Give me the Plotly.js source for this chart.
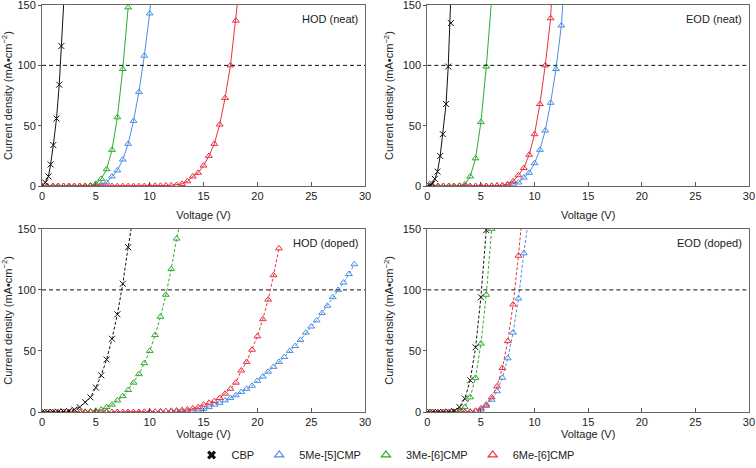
<!DOCTYPE html>
<html>
<head>
<meta charset="utf-8">
<script src="https://cdn.plot.ly/plotly-3.0.1.min.js"></script>
<style>
  html, body { margin: 0; padding: 0; background: #fff; }
  #chart { width: 756px; height: 468px; }
</style>
</head>
<body>
<div id="chart"></div>
<script>
// series names and colours
const names = ["CBP", "5Me-[5]CMP", "3Me-[6]CMP", "6Me-[6]CMP"];
const colors = ["#111111", "#4a8fe2", "#2eab2e", "#e8323e"];
const panelLabels = ["HOD (neat)", "EOD (neat)", "HOD (doped)", "EOD (doped)"];
const refLevel = 100;

// HOD (neat)
const hnCbpV = [0, 0.3, 0.6, 0.8, 1.05, 1.35, 1.6, 1.8, 2.1];
const hnCbpJ = [0, 3, 8, 18, 34, 56, 84, 116, 165];
const hn5mV = [0, 0.5, 1, 1.5, 2, 2.5, 3, 3.5, 4, 4.5, 5, 5.5, 6, 6.5, 7, 7.5, 8, 8.5, 9, 9.5, 10, 10.5];
const hn5mJ = [0, 0, 0, 0, 0, 0, 0, 0, 0, 0.2, 0.5, 1.5, 3, 8, 13, 22, 35, 54, 78, 108, 143, 200];
const hn3mV = [0, 0.5, 1, 1.5, 2, 2.5, 3, 3.5, 4, 4.5, 5, 5.5, 6, 6.5, 7, 7.5, 8];
const hn3mJ = [0, 0, 0, 0, 0, 0, 0, 0, 0.2, 0.5, 2, 6, 14, 30, 57, 97, 148];
const hn6mV = [0, 0.5, 1, 1.5, 2, 2.5, 3, 3.5, 4, 4.5, 5, 5.5, 6, 6.5, 7, 7.5, 8, 8.5, 9, 9.5, 10, 10.5, 11, 11.5, 12, 12.5, 13, 13.5, 14, 14.5, 15, 15.5, 16, 16.5, 17, 17.5, 18, 18.5];
const hn6mJ = [0, 0, 0, 0, 0, 0, 0, 0, 0, 0, 0, 0, 0, 0, 0, 0, 0, 0, 0, 0, 0.1, 0.2, 0.3, 0.5, 0.7, 1, 1.8, 4, 8, 11, 17, 25, 35, 51, 73, 100, 137, 180];

// EOD (neat)
const enCbpV = [0, 0.3, 0.45, 0.7, 0.95, 1.2, 1.45, 1.75, 1.95, 2.2, 2.45];
const enCbpJ = [0, 1, 2, 6, 12, 25, 43, 68, 99, 135, 220];
const en5mV = [0, 0.5, 1, 1.5, 2, 2.5, 3, 3.5, 4, 4.5, 5, 5.5, 6, 6.5, 7, 7.5, 8, 8.5, 9, 9.5, 10, 10.5, 11, 11.5, 12, 12.5, 13];
const en5mJ = [0, 0, 0, 0, 0, 0, 0, 0, 0, 0, 0, 0, 0.1, 0.3, 0.6, 1, 2, 3, 7, 11, 19, 30, 46, 69, 97, 133, 200];
const en3mV = [0, 0.5, 1, 1.5, 2, 2.5, 3, 3.5, 4, 4.5, 5, 5.5, 6];
const en3mJ = [0, 0, 0, 0, 0, 0, 0.3, 1.5, 8, 23, 53, 99, 155];
const en6mV = [0, 0.5, 1, 1.5, 2, 2.5, 3, 3.5, 4, 4.5, 5, 5.5, 6, 6.5, 7, 7.5, 8, 8.5, 9, 9.5, 10, 10.5, 11, 11.5, 12];
const en6mJ = [0, 0, 0, 0, 0, 0, 0, 0, 0, 0, 0, 0.1, 0.2, 0.4, 0.7, 1.5, 4, 9, 15, 26, 43, 68, 100, 139, 240];

// HOD (doped)
const hdCbpV = [0, 0.5, 1, 1.5, 2, 2.5, 3, 3.5, 4, 4.5, 5, 5.5, 6, 6.5, 7, 7.5, 8, 8.5];
const hdCbpJ = [0, 0, 0, 0.2, 0.4, 0.8, 2, 4, 8, 12, 20, 30, 43, 60, 80, 105, 135, 162];
const hd5mV = [0, 1, 2, 3, 4, 5, 6, 7, 8, 9, 10, 11, 12, 12.5, 13, 13.5, 14, 14.5, 15, 15.5, 16, 16.5, 17, 17.5, 18, 18.5, 19, 19.5, 20, 20.5, 21, 21.5, 22, 22.5, 23, 23.5, 24, 24.5, 25, 25.5, 26, 26.5, 27, 27.5, 28, 28.5, 29];
const hd5mJ = [0, 0, 0, 0, 0, 0, 0, 0, 0, 0, 0, 0.1, 0.2, 0.3, 0.4, 0.6, 0.8, 1.2, 2.5, 4, 6, 7.5, 9.5, 11.5, 13.7, 16.4, 19, 21.5, 25.5, 29, 33, 37, 41, 45, 50, 54, 59, 65, 70, 75, 81, 87, 94, 100, 106, 113, 121];
const hd3mV = [0, 0.5, 1, 1.5, 2, 2.5, 3, 3.5, 4, 4.5, 5, 5.5, 6, 6.5, 7, 7.5, 8, 8.5, 9, 9.5, 10, 10.5, 11, 11.5, 12, 12.5, 13];
const hd3mJ = [0, 0, 0, 0, 0, 0, 0, 0, 0.2, 0.5, 1, 2, 4, 6, 9.5, 13, 18, 24, 31, 40, 50, 63, 78, 96, 117, 142, 162];
const hd6mV = [0, 0.5, 1, 1.5, 2, 2.5, 3, 3.5, 4, 4.5, 5, 5.5, 6, 6.5, 7, 7.5, 8, 8.5, 9, 9.5, 10, 10.5, 11, 11.5, 12, 12.5, 13, 13.5, 14, 14.5, 15, 15.5, 16, 16.5, 17, 17.5, 18, 18.5, 19, 19.5, 20, 20.5, 21, 21.5, 22];
const hd6mJ = [0, 0, 0, 0, 0, 0, 0, 0, 0, 0, 0, 0, 0, 0, 0, 0, 0, 0, 0, 0.1, 0.2, 0.3, 0.5, 0.7, 1, 1.2, 1.5, 2, 3, 4, 6, 7.5, 9, 11.5, 15, 19, 24, 34, 41, 51, 62, 76, 92, 112, 134];

// EOD (doped)
const edCbpV = [0, 0.5, 1, 1.5, 2, 2.5, 3, 3.5, 4, 4.5, 5, 5.5];
const edCbpJ = [0, 0, 0, 0, 0.3, 0.8, 4, 11, 26, 53, 94, 149];
const ed5mV = [0, 0.5, 1, 1.5, 2, 2.5, 3, 3.5, 4, 4.5, 5, 5.5, 6, 6.5, 7, 7.5, 8, 8.5, 9, 9.5];
const ed5mJ = [0, 0, 0, 0, 0, 0, 0, 0, 0, 0.5, 2, 5, 10, 17, 28, 44, 65, 93, 130, 162];
const ed3mV = [0, 0.5, 1, 1.5, 2, 2.5, 3, 3.5, 4, 4.5, 5, 5.5, 6];
const ed3mJ = [0, 0, 0, 0, 0, 0.2, 0.8, 4, 12, 28, 56, 96, 150];
const ed6mV = [0, 0.5, 1, 1.5, 2, 2.5, 3, 3.5, 4, 4.5, 5, 5.5, 6, 6.5, 7, 7.5, 8, 8.5, 9];
const ed6mJ = [0, 0, 0, 0, 0, 0, 0, 0, 0.3, 1, 3, 6, 12, 21, 36, 58, 88, 128, 175];

const xTicks = [0, 5, 10, 15, 20, 25, 30];
const yTicks = [0, 50, 100, 150];

// per panel: [x, y] for CBP, 5Me, 3Me, 6Me
const panels = [
  { s: [[hnCbpV, hnCbpJ], [hn5mV, hn5mJ], [hn3mV, hn3mJ], [hn6mV, hn6mJ]], dash: "solid" },
  { s: [[enCbpV, enCbpJ], [en5mV, en5mJ], [en3mV, en3mJ], [en6mV, en6mJ]], dash: "solid" },
  { s: [[hdCbpV, hdCbpJ], [hd5mV, hd5mJ], [hd3mV, hd3mJ], [hd6mV, hd6mJ]], dash: "dash" },
  { s: [[edCbpV, edCbpJ], [ed5mV, ed5mJ], [ed3mV, ed3mJ], [ed6mV, ed6mJ]], dash: "dash" },
];

const font = "Liberation Sans, Arial, Helvetica, sans-serif";
const traces = [];

function markerFor(i, size) {
  if (i === 0) {
    return { symbol: "x-thin-open", size: size, color: colors[0], line: { width: 1, color: colors[0] } };
  }
  return { symbol: "triangle-up-open", size: size, color: colors[i], line: { width: 1, color: colors[i] } };
}

panels.forEach((p, k) => {
  const ax = k === 0 ? "" : String(k + 1);
  [1, 2, 3, 0].forEach((i) => {
    traces.push({
      x: p.s[i][0],
      y: p.s[i][1],
      type: "scatter",
      mode: "lines+markers",
      line: { color: colors[i], width: 1, dash: p.dash === "dash" ? "3px,2px" : "solid" },
      marker: markerFor(i, 6),
      xaxis: "x" + ax,
      yaxis: "y" + ax,
      showlegend: false,
      hoverinfo: "skip",
    });
  });
});

// legend-only entries
names.forEach((n, i) => {
  traces.push({
    x: [null],
    y: [null],
    type: "scatter",
    mode: "markers",
    name: n,
    marker: i === 0
      ? { symbol: "x", size: 8, color: colors[0] }
      : { symbol: "triangle-up-open", size: 8, color: colors[i], line: { width: 1.2, color: colors[i] } },
    xaxis: "x",
    yaxis: "y",
  });
});

const xDom = [[0, 0.457], [0.545, 1], [0, 0.457], [0.545, 1]];
const yDom = [[0.555, 1], [0.555, 1], [0, 0.45], [0, 0.45]];

const layout = {
  width: 756,
  height: 468,
  margin: { l: 42, r: 7, t: 5, b: 56, autoexpand: false },
  paper_bgcolor: "#fff",
  plot_bgcolor: "#fff",
  font: { family: font, size: 11, color: "#222" },
  showlegend: true,
  legend: {
    orientation: "h",
    xref: "container",
    yref: "container",
    x: 0.51,
    xanchor: "center",
    y: 0.028,
    yanchor: "middle",
    font: { size: 11, color: "#222" },
    itemwidth: 30,
  },
  annotations: [],
  shapes: [],
};

for (let k = 0; k < 4; k++) {
  const ax = k === 0 ? "" : String(k + 1);
  layout["xaxis" + ax] = {
    domain: xDom[k],
    anchor: "y" + ax,
    range: [0, 30],
    tickvals: xTicks,
    ticks: "inside",
    ticklen: 4,
    tickcolor: "#555",
    showline: true,
    linecolor: "#666",
    linewidth: 1,
    mirror: true,
    showgrid: false,
    zeroline: false,
    ticklabeloverflow: "allow",
    title: { text: "Voltage (V)", font: { size: 11 }, standoff: 9 },
  };
  layout["yaxis" + ax] = {
    domain: yDom[k],
    anchor: "x" + ax,
    range: [0, 150],
    tickvals: yTicks,
    ticks: "outside",
    ticklen: 3,
    tickcolor: "#555",
    showline: true,
    linecolor: "#666",
    linewidth: 1,
    mirror: true,
    showgrid: false,
    zeroline: false,
    ticklabeloverflow: "allow",
    title: { text: "Current density (mA\u2022cm<sup>\u22122</sup>)", font: { size: 11 }, standoff: 6 },
  };
  layout.shapes.push({
    type: "line",
    xref: "x" + ax + " domain",
    yref: "y" + ax,
    x0: 0,
    x1: 1,
    y0: refLevel,
    y1: refLevel,
    line: { color: "#111", width: 1, dash: "4px,3px" },
  });
  layout.annotations.push({
    text: panelLabels[k],
    xref: "x" + ax + " domain",
    yref: "y" + ax + " domain",
    x: 0.985,
    y: 0.965,
    xanchor: "right",
    yanchor: "top",
    showarrow: false,
    font: { size: 11, color: "#222" },
  });
}

Plotly.newPlot("chart", traces, layout, { displayModeBar: false, staticPlot: true });
</script>
</body>
</html>
